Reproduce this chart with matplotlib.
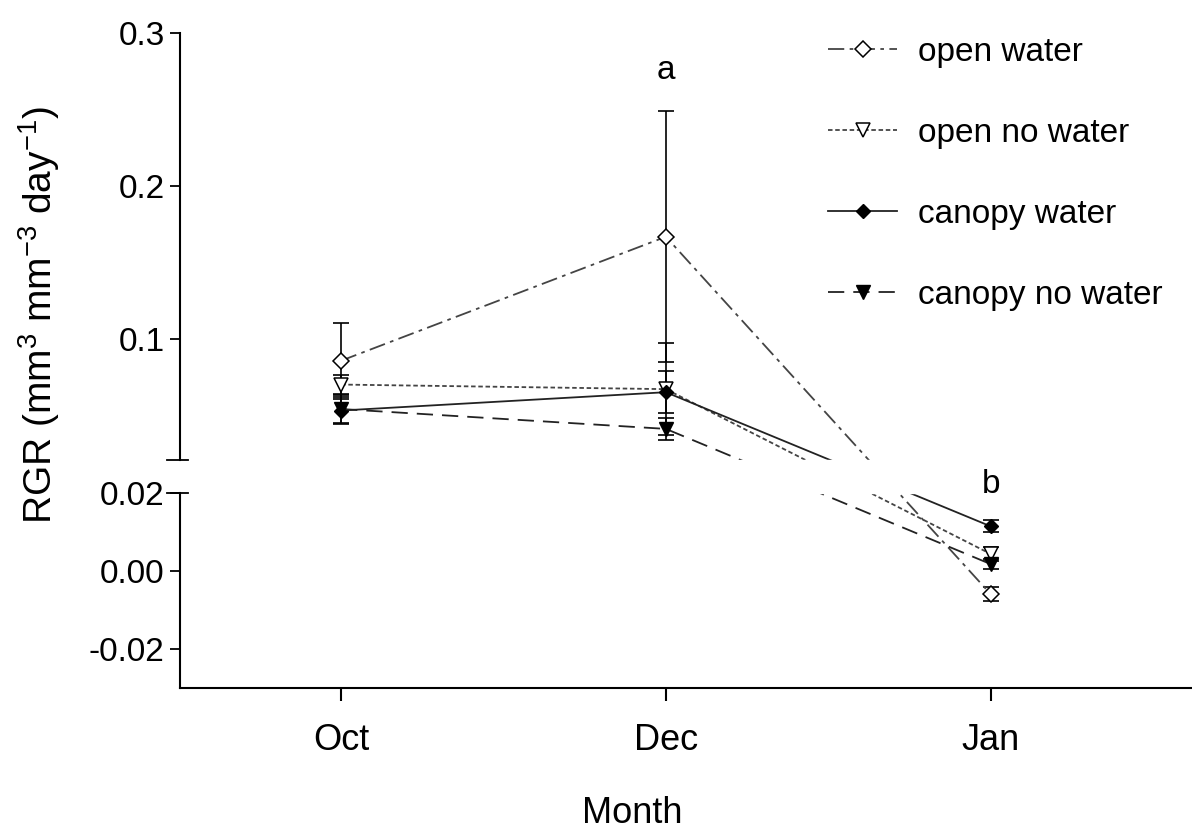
import numpy as np
import matplotlib
matplotlib.use('Agg')
import matplotlib.pyplot as plt

plt.rcParams['font.family'] = ['Liberation Sans', 'DejaVu Sans']
plt.rcParams['mathtext.fontset'] = 'custom'
plt.rcParams['mathtext.rm'] = 'Liberation Sans'
plt.rcParams['mathtext.it'] = 'Liberation Sans:italic'

# data (means and standard errors)
months = ['Oct', 'Dec', 'Jan']
open_water = [0.0856, 0.1667, -0.0059]
open_water_se = [0.025, 0.082, 0.0018]
open_no_water = [0.070, 0.067, 0.0044]
open_no_water_se = [0.0065, 0.030, 0.0018]
canopy_water = [0.053, 0.065, 0.0115]
canopy_water_se = [0.009, 0.0137, 0.0015]
canopy_no_water = [0.054, 0.041, 0.0018]
canopy_no_water_se = [0.009, 0.007, 0.0012]

labels = ['open water', 'open no water', 'canopy water', 'canopy no water']
letters = ['a', 'b']
letter_y = [0.27, 0.02]

# broken y axis: lower part -0.03..0.02, upper part 0.02..0.3 (compressed)
Y_BOTTOM, Y_TOP = -0.03, 0.3
BREAK_LO, BREAK_HI = 0.02, 0.0205
UPPER_K = 1530 / 3900.0   # upper panel scale relative to lower
GAP = 33 / 3900.0         # blank gap between panels

xp = np.array([-1.0, BREAK_LO, BREAK_HI, 1.0])
fp = np.array([-1.0, BREAK_LO, BREAK_LO + GAP, BREAK_LO + GAP + (1.0 - BREAK_HI) * UPPER_K])


def forward(v):
    return np.interp(np.asarray(v, dtype=float), xp, fp)


def inverse(u):
    return np.interp(np.asarray(u, dtype=float), fp, xp)


fig = plt.figure(figsize=(11.92, 8.34), dpi=100)
ax = fig.add_axes([180 / 1192, 1 - 688 / 834, 1012 / 1192, 655 / 834])
ax.set_yscale('function', functions=(forward, inverse))

x = np.arange(len(months))
series = [
    (open_water, open_water_se, dict(marker='D', ms=8, mfc='white', mec='black', mew=1.1,
                                     color='#444444', dashes=(9, 3, 2, 3))),
    (open_no_water, open_no_water_se, dict(marker='v', ms=10, mfc='white', mec='black', mew=1.1,
                                           color='#444444', dashes=(2.5, 1.5))),
    (canopy_water, canopy_water_se, dict(marker='D', ms=7, mfc='black', mec='black',
                                         color='#222222', linestyle='-')),
    (canopy_no_water, canopy_no_water_se, dict(marker='v', ms=10, mfc='black', mec='black',
                                               color='#222222', dashes=(9, 5))),
]

handles = []
for (vals, se, style), lab in zip(series, labels):
    ax.errorbar(x, vals, yerr=se, fmt='none', ecolor='black', elinewidth=1.2,
                capsize=6, capthick=1.2, zorder=2)
    ln, = ax.plot(x, vals, lw=1.3, zorder=3, label=lab, **style)
    handles.append(ln)

ax.set_xlim(-0.496, 2.62)
ax.set_ylim(Y_BOTTOM, Y_TOP)

# blank out the break region
ax.axhspan(BREAK_LO, BREAK_HI, color='white', zorder=5)

# left axis drawn in two pieces
for (lo, hi) in [(Y_BOTTOM, BREAK_LO), (BREAK_HI, Y_TOP)]:
    ax.plot([0, 0], [lo, hi], transform=ax.get_yaxis_transform(), color='black',
            lw=1.5, clip_on=False, zorder=6)
for yb in [BREAK_LO, BREAK_HI]:
    ax.plot([-0.013, 0.008], [yb, yb], transform=ax.get_yaxis_transform(), color='black',
            lw=1.3, clip_on=False, zorder=6)

for s in ['left', 'top', 'right']:
    ax.spines[s].set_visible(False)
ax.spines['bottom'].set_linewidth(1.5)

ax.set_yticks([-0.02, 0.0, 0.02, 0.1, 0.2, 0.3])
ax.set_yticklabels(['-0.02', '0.00', '0.02', '0.1', '0.2', '0.3'])
ax.set_xticks(x)
ax.set_xticklabels(months)
ax.tick_params(axis='y', direction='out', length=7, width=1.3, pad=4, labelsize=24)
ax.tick_params(axis='x', direction='out', length=9.5, width=1.5, pad=16, labelsize=26)

ax.set_xlabel('Month', fontsize=26)
ax.xaxis.set_label_coords(0.447, -0.165)
ax.set_ylabel('RGR (mm$^{3}$ mm$^{-3}$ day$^{-1}$)', fontsize=28)
ax.yaxis.set_label_coords(-0.117, 0.57)

for xi, lt, ly in zip([1, 2], letters, letter_y):
    ax.text(xi, ly, lt, ha='center', va='baseline', fontsize=24, zorder=7)

ax.legend(handles=handles, loc='upper left', bbox_to_anchor=(828 / 1192, 1 - 37 / 834),
          bbox_transform=fig.transFigure, frameon=False, fontsize=24, handlelength=2.07,
          handletextpad=0.63, labelspacing=1.5, borderpad=0, borderaxespad=0)

fig.savefig('out.png', dpi=100)
